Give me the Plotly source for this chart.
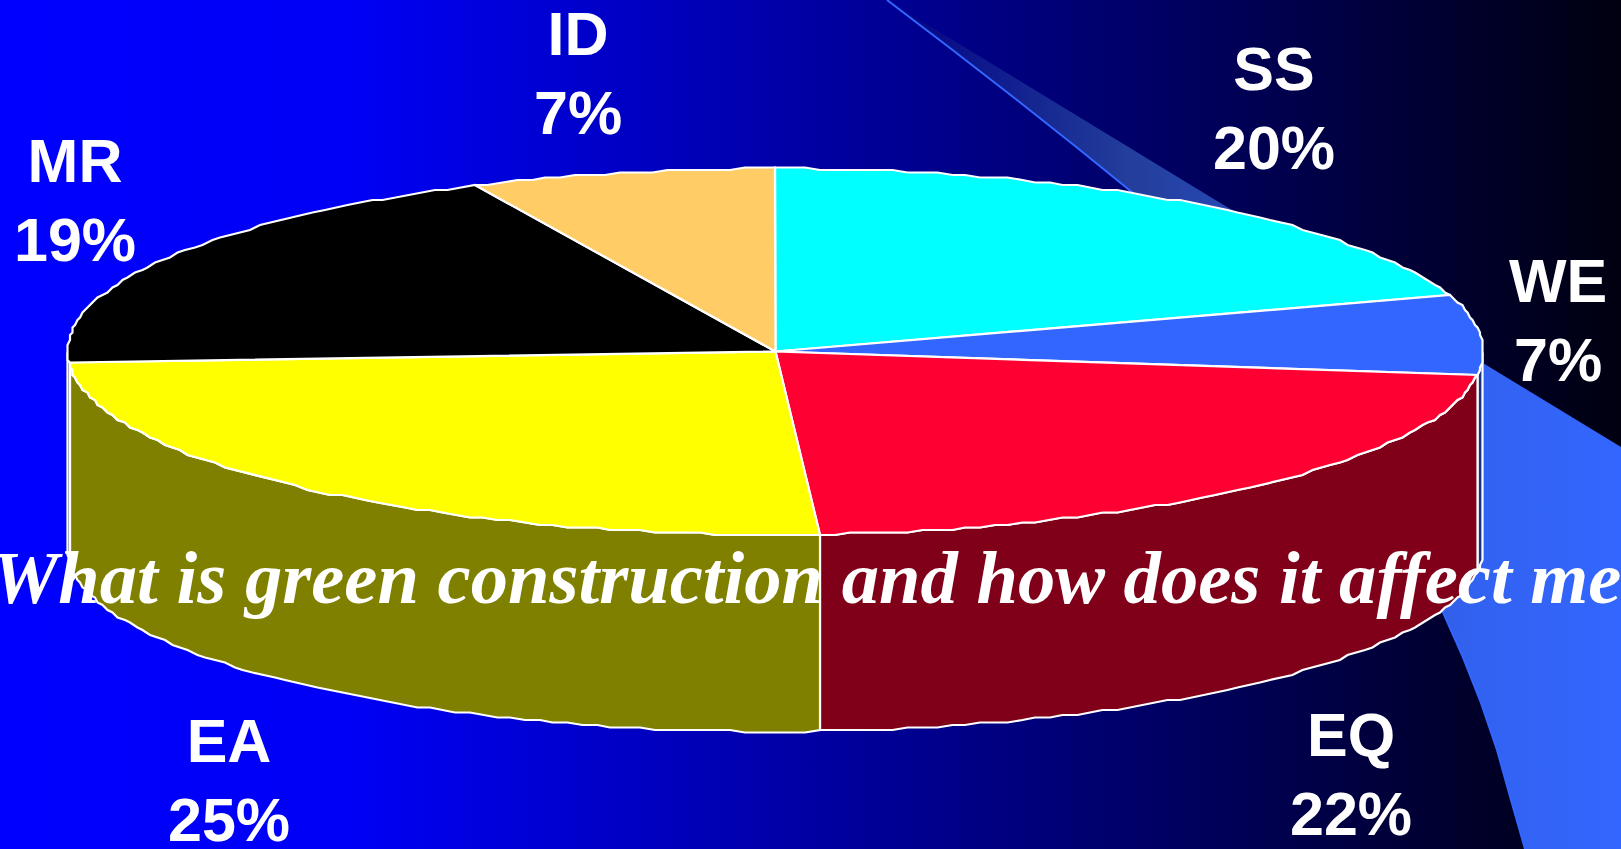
import numpy as np
import plotly.graph_objects as go

# Pie data, clockwise from twelve o'clock
categories = ["SS", "WE", "EQ", "EA", "MR", "ID"]
values = [20, 7, 22, 25, 19, 7]
top_colors = ["#00FFFF", "#3366FF", "#FF0033", "#FFFF00", "#000000", "#FFCC66"]
wall_colors = ["#008080", "#1A3380", "#800019", "#808000", "#000000", "#806633"]
title_text = "What is green construction and how does it affect me"

WIDTH, HEIGHT = 1621, 849
CX, CY, RX, RY, DEPTH = 775.5, 351.5, 708, 183, 197

# Label anchors in plot units: centre x, centre y
label_xy = {
    "SS": (1274, 108), "WE": (1558, 320), "EQ": (1351, 774),
    "EA": (229, 780), "MR": (75, 200), "ID": (578, 73),
}


def ellipse(deg, drop=0.0, snap=2.5):
    t = np.radians(np.asarray(deg, dtype=float))
    x = CX + RX * np.sin(t)
    y = CY - RY * np.cos(t) + drop
    # The outline is a polyline stepped on a coarse device grid
    return np.round(x / snap) * snap, np.round(y / snap) * snap


def arc(a, b, step=1.2):
    n = max(2, int(abs(b - a) / step) + 1)
    return np.linspace(a, b, n)


fig = go.Figure()

# Horizontal backdrop fading from blue into black
fig.add_trace(go.Scatter(
    x=[0, WIDTH, WIDTH, 0, 0], y=[0, 0, HEIGHT, HEIGHT, 0],
    mode="lines", line=dict(width=0), fill="toself",
    fillgradient=dict(type="horizontal", colorscale=[
        [0, "rgb(0,0,255)"], [0.22, "rgb(0,0,245)"], [1, "rgb(0,0,16)"]]),
    hoverinfo="skip", showlegend=False,
))

# Swoosh behind the pie
edge_x = [887, 950, 1017, 1075, 1133, 1290, 1442, 1462, 1481, 1497, 1511, 1525]
edge_y = [0, 48, 100, 146, 193, 385, 610, 655, 703, 750, 800, 849]
fig.add_trace(go.Scatter(
    x=edge_x + [1621, 1621, 887],
    y=edge_y + [849, 447, 0],
    mode="lines", line=dict(width=0), fill="toself",
    fillgradient=dict(type="horizontal", colorscale=[
        [0, "rgb(0,0,130)"], [0.33, "rgb(35,62,155)"],
        [0.8, "rgb(50,98,240)"], [1, "rgb(51,102,255)"]]),
    hoverinfo="skip", showlegend=False,
))
fig.add_trace(go.Scatter(
    x=edge_x, y=edge_y, mode="lines",
    line=dict(color="#3366FF", width=2),
    hoverinfo="skip", showlegend=False,
))

# Slice angles follow the values
total = sum(values)
ends = np.cumsum(values) / total * 360
starts = np.concatenate([[0], ends[:-1]])

# Side walls: only the part of each slice facing the viewer
for a, b, color in zip(starts, ends, wall_colors):
    lo, hi = max(a, 90), min(b, 270)
    if lo >= hi:
        continue
    d = arc(lo, hi)
    xt, yt = ellipse(d)
    xb, yb = ellipse(d[::-1], DEPTH)
    fig.add_trace(go.Scatter(
        x=np.r_[xt, xb, xt[0]], y=np.r_[yt, yb, yt[0]],
        mode="lines", fill="toself", fillcolor=color,
        line=dict(color="white", width=2.2),
        hoverinfo="skip", showlegend=False,
    ))

# Top face
for name, a, b, color in zip(categories, starts, ends, top_colors):
    xa, ya = ellipse(arc(a, b))
    fig.add_trace(go.Scatter(
        x=np.r_[CX, xa, CX], y=np.r_[CY, ya, CY],
        mode="lines", fill="toself", fillcolor=color,
        line=dict(color="white", width=2.2),
        name=name, hoverinfo="name", showlegend=False,
    ))

annotations = []
for name, val in zip(categories, values):
    x, y = label_xy[name]
    annotations.append(dict(
        x=x, y=y, xref="x", yref="y", showarrow=False,
        text=f"<b>{name}<br>{val}%</b>", align="center",
        font=dict(family="Liberation Sans", size=61, color="white"),
    ))

annotations.append(dict(
    x=806, y=578, xref="x", yref="y", showarrow=False,
    text=f"<b><i>{title_text}</i></b>",
    font=dict(family="Liberation Serif", size=74.6, color="white"),
))

fig.update_layout(
    width=WIDTH, height=HEIGHT, margin=dict(l=0, r=0, t=0, b=0),
    paper_bgcolor="#000080", plot_bgcolor="rgba(0,0,0,0)",
    xaxis=dict(range=[0, WIDTH], visible=False, fixedrange=True),
    yaxis=dict(range=[HEIGHT, 0], visible=False, fixedrange=True),
    annotations=annotations, showlegend=False,
)
fig.write_html("out.html", config=dict(displayModeBar=False))
